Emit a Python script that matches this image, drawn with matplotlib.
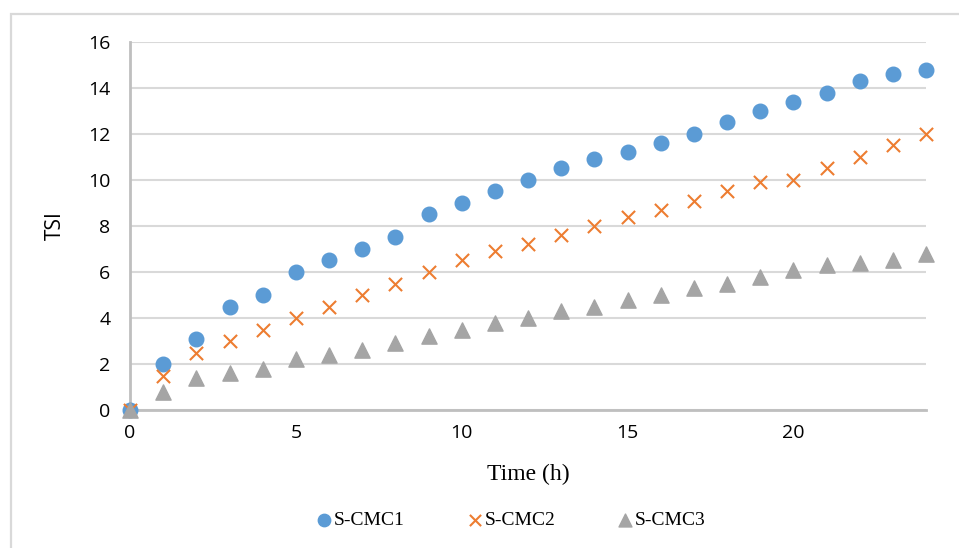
import matplotlib.pyplot as plt
from matplotlib.patches import Rectangle

time_h = list(range(0, 25))
s_cmc1 = [0, 2.0, 3.1, 4.5, 5.0, 6.0, 6.5, 7.0, 7.5, 8.5, 9.0, 9.5, 10.0,
          10.5, 10.9, 11.2, 11.6, 12.0, 12.5, 13.0, 13.4, 13.8, 14.3, 14.6, 14.8]
s_cmc2 = [0, 1.5, 2.5, 3.0, 3.5, 4.0, 4.5, 5.0, 5.5, 6.0, 6.5, 6.9, 7.2,
          7.6, 8.0, 8.4, 8.7, 9.1, 9.5, 9.9, 10.0, 10.5, 11.0, 11.5, 12.0]
s_cmc3 = [0, 0.8, 1.4, 1.6, 1.8, 2.2, 2.4, 2.6, 2.9, 3.2, 3.5, 3.8, 4.0,
          4.3, 4.5, 4.8, 5.0, 5.3, 5.5, 5.8, 6.1, 6.3, 6.4, 6.5, 6.8]
x_ticks = [0, 5, 10, 15, 20]
y_ticks = [0, 2, 4, 6, 8, 10, 12, 14, 16]

fig = plt.figure(figsize=(9.59, 5.48), dpi=100)
ax = fig.add_axes([0.1356, 0.2518, 0.8300, 0.6716])

# outer chart border
fig.patches.append(Rectangle((11 / 959, -0.1), 1.2, 1 - 14 / 548 + 0.1,
                             transform=fig.transFigure, fill=False,
                             edgecolor="#d9d9d9", linewidth=1.6))

ax.scatter(time_h, s_cmc1, s=110, marker="o", color="#5B9BD5", zorder=3,
           clip_on=False, label="S-CMC1")
ax.scatter(time_h, s_cmc2, s=90, marker="x", color="#ED7D31", linewidths=1.5,
           zorder=3, clip_on=False, label="S-CMC2")
ax.scatter(time_h, s_cmc3, s=120, marker="^", color="#A5A5A5", zorder=3,
           clip_on=False, label="S-CMC3")

ax.set_xlim(0, 24)
ax.set_ylim(0, 16)
ax.set_xticks(x_ticks)
ax.set_yticks(y_ticks)
ax.tick_params(length=0, labelsize=14)
for lab in ax.get_xticklabels() + ax.get_yticklabels():
    lab.set_family("Open Sans")
ax.tick_params(axis="y", pad=14)
ax.tick_params(axis="x", pad=10)

ax.grid(axis="y", color="#d9d9d9", linewidth=1.5)
ax.set_axisbelow(True)
for side in ["top", "right"]:
    ax.spines[side].set_visible(False)
ax.spines["left"].set_color("#bfbfbf")
ax.spines["left"].set_linewidth(2)
ax.spines["bottom"].set_color("#bfbfbf")
ax.spines["bottom"].set_linewidth(2)

ax.set_ylabel("TSI", fontsize=15, family="Open Sans", labelpad=16)
ax.set_xlabel("Time (h)", fontsize=17, family="Liberation Serif", labelpad=16)

fig.legend(loc="center", bbox_to_anchor=(0.531, 0.05), ncol=3, frameon=False,
           prop={"family": "Liberation Serif", "size": 14},
           handlelength=1.2, handletextpad=-0.1, columnspacing=3.0,
           markerscale=0.85)

plt.savefig("out.png", dpi=100)
plt.close()
